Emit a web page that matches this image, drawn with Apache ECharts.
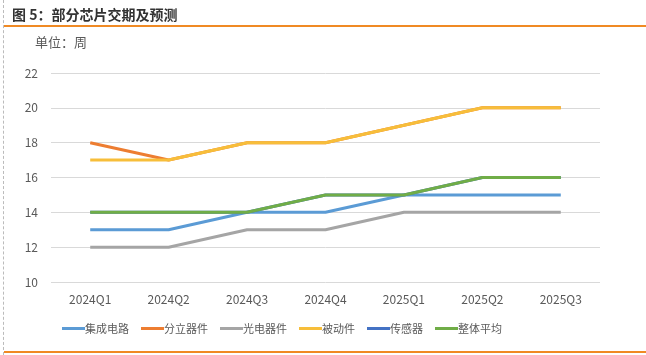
<!DOCTYPE html>
<html><head><meta charset="utf-8">
<script src="https://cdn.jsdelivr.net/npm/echarts@6/dist/echarts.min.js"></script>
<style>
html,body{margin:0;padding:0;background:#fff;}
#wrap{position:relative;width:646px;height:355px;overflow:hidden;}
#border{position:absolute;left:3px;top:0;width:0;height:355px;border-left:1px dashed #bbb;}
#title{position:absolute;left:12px;top:4px;font:bold 14px "Noto Sans CJK SC";color:#333;}
#line1{position:absolute;left:4px;top:25px;width:642px;height:2px;background:#F08A24;}
#line2{position:absolute;left:4px;top:351px;width:642px;height:2px;background:#F08A24;}
#chart{position:absolute;left:0;top:0;width:646px;height:355px;}
</style></head>
<body><div id="wrap">
<div id="chart"></div>
<div id="border"></div>
<div id="title">图 5：部分芯片交期及预测</div>
<div id="line1"></div>
<div id="line2"></div>
</div>
<script>
const categories = ['2024Q1','2024Q2','2024Q3','2024Q4','2025Q1','2025Q2','2025Q3'];
const seriesNames = ['集成电路','分立器件','光电器件','被动件','传感器','整体平均'];
const icValues = [13,13,14,14,15,15,15];
const discreteValues = [18,17,18,18,19,20,20];
const optoValues = [12,12,13,13,14,14,14];
const passiveValues = [17,17,18,18,19,20,20];
const sensorValues = [14,14,14,15,15,16,16];
const averageValues = [14,14,14,15,15,16,16];
const colors = ['#5B9BD5','#ED7D31','#A5A5A5','#F7BE3A','#4472C4','#70AD47'];
const allValues = [icValues, discreteValues, optoValues, passiveValues, sensorValues, averageValues];

const chart = echarts.init(document.getElementById('chart'), null, {renderer:'canvas'});
chart.setOption({
  animation:false,
  color: colors,
  textStyle:{fontFamily:'"Noto Sans CJK SC"'},
  graphic:[{type:'text', left:35, top:36, style:{text:'单位：周', font:'13px "Noto Sans CJK SC"', fill:'#595959'}}],
  grid:{left:51, right:46, top:73, bottom:73},
  legend:{
    bottom:16, left:57, itemGap:12, itemWidth:23, itemHeight:3,
    icon:'rect',
    textStyle:{fontSize:11, color:'#595959', padding:[0,0,0,-5]},
    data: seriesNames
  },
  xAxis:{
    type:'category', data:categories, boundaryGap:true,
    axisLine:{show:false}, axisTick:{show:false},
    axisLabel:{color:'#595959', fontSize:12, margin:11}
  },
  yAxis:{
    type:'value', min:10, max:22, interval:2,
    axisLine:{show:false}, axisTick:{show:false},
    axisLabel:{color:'#595959', fontSize:12, margin:13},
    splitLine:{lineStyle:{color:'#D9D9D9', width:1}}
  },
  series: seriesNames.map((n,i)=>({
    name:n, type:'line', data:allValues[i], symbol:'none',
    lineStyle:{width:3, color:colors[i]}, itemStyle:{color:colors[i]}
  }))
});
</script>
</body></html>
